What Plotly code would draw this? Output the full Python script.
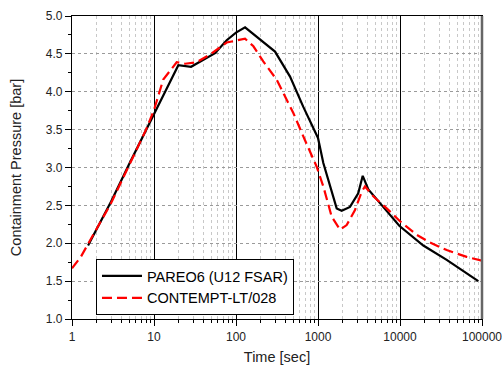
import plotly.graph_objects as go

# PAREO6 (U12 FSAR)
pareo_t = [1.57, 3.0, 5.0, 10, 19.8, 28.3, 55.5, 77, 100, 129, 299, 456, 662, 1000,
           1161, 1690, 1945, 2455, 3095, 3510, 4110, 5700, 9800, 19250, 37100, 90100]
pareo_p = [1.97, 2.55, 3.05, 3.71, 4.35, 4.33, 4.51, 4.68, 4.78, 4.85, 4.53, 4.2, 3.8, 3.39,
           3.06, 2.46, 2.43, 2.48, 2.66, 2.89, 2.71, 2.53, 2.23, 1.97, 1.78, 1.50]

# CONTEMPT-LT/028
contempt_t = [1.0, 1.28, 3.0, 5.0, 8.0, 10, 12.96, 18.9, 24, 33, 48, 77, 98, 129, 163, 215, 313,
              415, 500, 694, 964, 1161, 1469, 1854, 2237, 2826, 3412, 3741, 4725, 6885,
              10000, 16000, 23200, 37100, 65000, 100000]
contempt_p = [1.67, 1.82, 2.53, 3.03, 3.5, 3.76, 4.16, 4.39, 4.37, 4.39, 4.49, 4.65, 4.67, 4.70,
              4.60, 4.40, 4.16, 3.89, 3.72, 3.36, 3.01, 2.75, 2.35, 2.18, 2.24, 2.44, 2.68, 2.75,
              2.62, 2.46, 2.29, 2.11, 2.01, 1.91, 1.82, 1.77]

x_tickvals = [1, 10, 100, 1000, 10000, 100000]
x_ticktext = ["1", "10", "100", "1000", "10000", "100000"]
y_tickvals = [1.0, 1.5, 2.0, 2.5, 3.0, 3.5, 4.0, 4.5, 5.0]
y_ticktext = ["1.0", "1.5", "2.0", "2.5", "3.0", "3.5", "4.0", "4.5", "5.0"]

minor_x = [m * 10 ** k for k in range(5) for m in range(2, 10)]
minor_y = [1.25 + 0.5 * i for i in range(8)]

FONT = "Liberation Sans, Arial, sans-serif"

fig = go.Figure()
fig.add_trace(go.Scatter(x=pareo_t, y=pareo_p, mode="lines", name="PAREO6 (U12 FSAR)",
                         line=dict(color="black", width=2.2)))
fig.add_trace(go.Scatter(x=contempt_t, y=contempt_p, mode="lines", name="CONTEMPT-LT/028",
                         line=dict(color="#ff0000", width=2.2, dash="10px,5px")))

# right border (grey)
fig.add_shape(type="line", xref="paper", yref="paper", x0=1, x1=1, y0=0, y1=1,
              line=dict(color="#666666", width=2.5))

fig.update_layout(
    width=502, height=365,
    margin=dict(l=72, r=20, t=16, b=46),
    paper_bgcolor="white", plot_bgcolor="white",
    font=dict(family=FONT, size=12, color="#222222"),
    showlegend=True,
    legend=dict(x=0.0585, y=0.198, xanchor="left", yanchor="top",
                bgcolor="white", bordercolor="black", borderwidth=1,
                font=dict(size=14.5, color="black"), tracegroupgap=0,
                itemwidth=40),
    xaxis=dict(type="log", range=[0, 5], tickvals=x_tickvals, ticktext=x_ticktext,
               automargin=False, ticklabeloverflow="allow",
               showgrid=True, gridcolor="black", gridwidth=1, zeroline=False,
               showline=True, linecolor="black", linewidth=1.2, mirror=True,
               ticks="outside", ticklen=6, tickcolor="black",
               tickfont=dict(size=12),
               title=dict(text="Time [sec]", font=dict(size=14.5), standoff=9),
               minor=dict(tickvals=minor_x, ticks="outside", ticklen=3, tickcolor="black",
                          showgrid=True, gridcolor="#c8c8c8", griddash="dot", gridwidth=1)),
    yaxis=dict(range=[1, 5], tickvals=y_tickvals, ticktext=y_ticktext,
               automargin=False, ticklabeloverflow="allow",
               showgrid=True, gridcolor="#9a9a9a", griddash="dot", gridwidth=1,
               zeroline=False,
               showline=True, linecolor="black", linewidth=1.2, mirror=True,
               ticks="outside", ticklen=6, tickcolor="black",
               tickfont=dict(size=12),
               title=dict(text="Containment Pressure [bar]", font=dict(size=14.5), standoff=20),
               minor=dict(tickvals=minor_y, ticks="outside", ticklen=3, tickcolor="black",
                          showgrid=False)),
)

fig.write_html("out.html", config={"displayModeBar": False},
               post_script="document.body.style.margin='0px';document.body.style.overflow='hidden';")
